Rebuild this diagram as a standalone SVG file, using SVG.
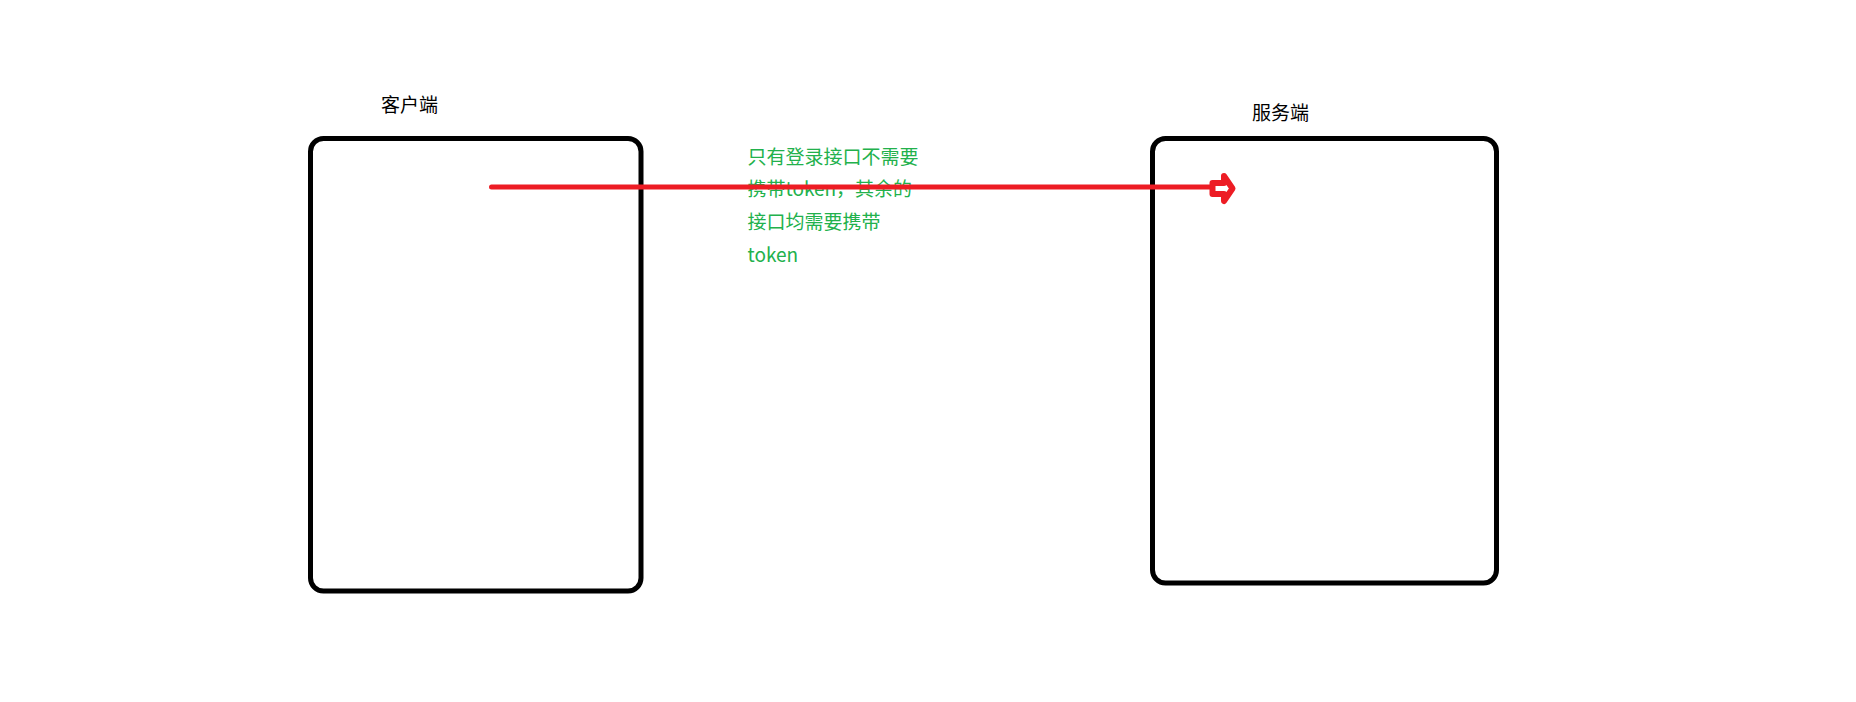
<svg xmlns="http://www.w3.org/2000/svg" width="1856" height="702" viewBox="0 0 1856 702">
  <style>
    .box { fill: none; stroke: #000; stroke-width: 5; }
    .title { font-family: "Noto Sans CJK SC", "Microsoft YaHei", sans-serif; font-size: 19px; fill: #000; }
    .note { font-family: "Noto Sans CJK SC", "Microsoft YaHei", sans-serif; font-size: 19px; fill: #22b14c; }
    .flow { fill: none; stroke: #ed1c24; stroke-width: 5; stroke-linecap: round; }
    .head { fill: #fff; stroke: #ed1c24; stroke-width: 6; stroke-linejoin: round; }
  </style>
  <rect width="1856" height="702" fill="#fff"/>

  <!-- client -->
  <g id="client">
    <rect class="box" x="310.5" y="138.5" width="330.5" height="452.5" rx="13"/>
    <text class="title" x="381" y="112">客户端</text>
  </g>

  <!-- server -->
  <g id="server">
    <rect class="box" x="1152.5" y="138.5" width="344" height="444.5" rx="13"/>
    <text class="title" x="1252" y="120">服务端</text>
  </g>

  <!-- note about token -->
  <g id="note">
    <text class="note" x="747.5" y="163.5">只有登录接口不需要</text>
    <text class="note" x="747.5" y="196.2">携带token，其余的</text>
    <text class="note" x="747.5" y="228.9">接口均需要携带</text>
    <text class="note" x="747.5" y="261.6">token</text>
  </g>

  <!-- request arrow -->
  <g id="connectors">
    <line class="flow" x1="491.5" y1="187" x2="1212" y2="187"/>
    <path class="head" d="M1212.5,183 L1224,183 L1224,176 L1232.5,188.5 L1224,201 L1224,194 L1212.5,194 Z"/>
  </g>
</svg>
